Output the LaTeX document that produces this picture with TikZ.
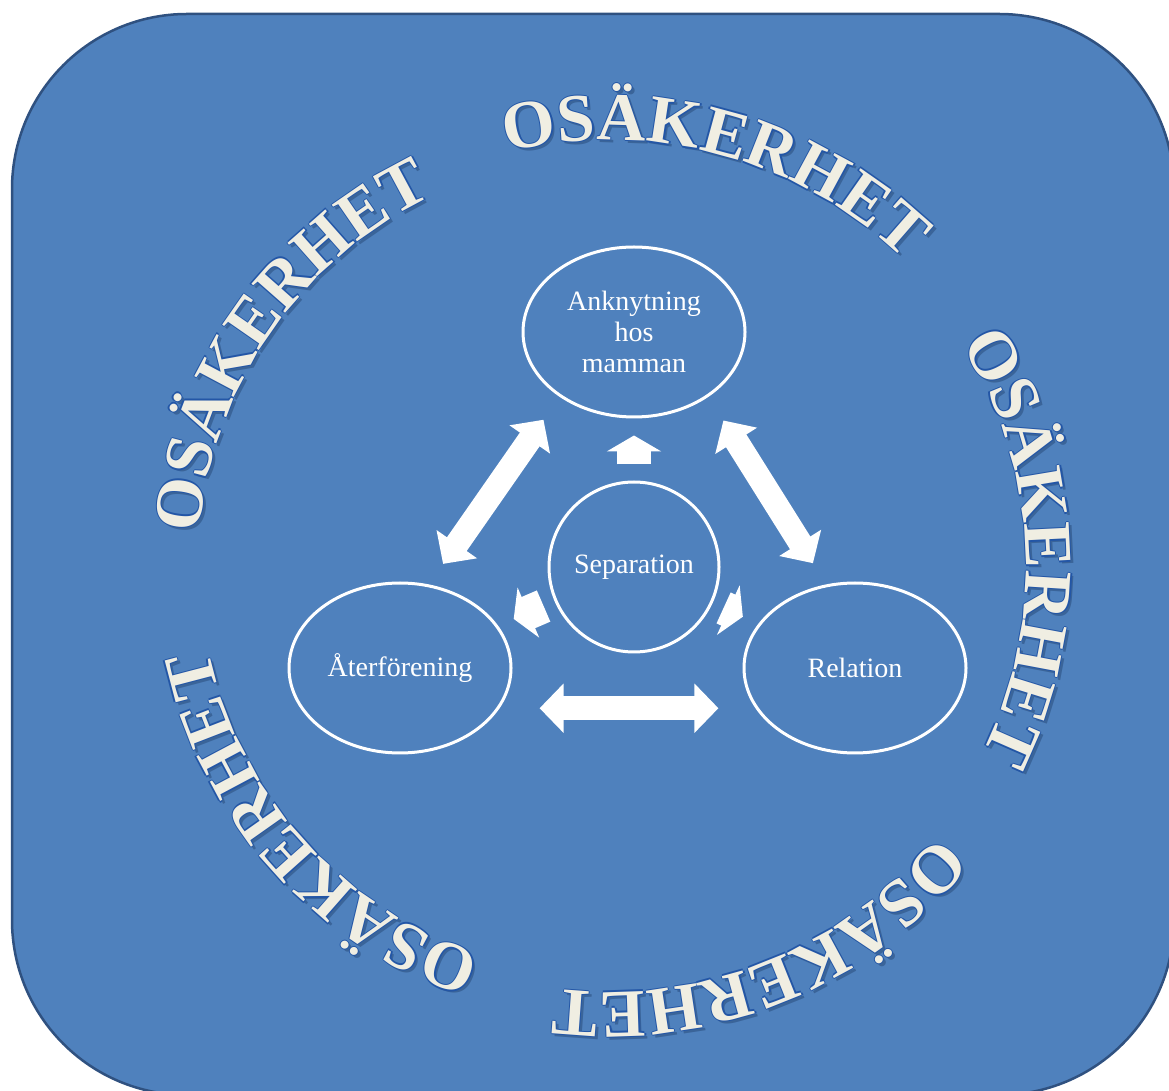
\documentclass[tikz,border=0pt]{standalone}
\usepackage{fontspec}
\setmainfont{Liberation Serif}
\usetikzlibrary{arrows.meta, decorations.text, shapes.geometric}

\definecolor{boxblue}{HTML}{4F81BD}
\definecolor{boxedge}{HTML}{2F5180}
\definecolor{cream}{HTML}{F0EEE2}
\definecolor{rimblue}{HTML}{2356A6}
\definecolor{shadeblue}{HTML}{3A6499}

\newcommand{\osakfont}{\fontsize{68}{68}\selectfont\bfseries}

\begin{document}
\begin{tikzpicture}[x=1pt, y=1pt,
        bubble/.style={ellipse, draw=white, line width=3pt, text=white, inner sep=0pt,
            minimum width=222pt, minimum height=170pt, align=center,
            font=\fontsize{28}{31}\selectfont},
        twoway/.style={white, line width=24pt,
            {Triangle[length=24pt,width=48pt]}-{Triangle[length=24pt,width=48pt]}},
        oneway/.style={white, line width=34pt, -{Triangle[length=16pt,width=54pt]},
            shorten <=12pt, shorten >=17pt}]
    \useasboundingbox (0,0) rectangle (1169,1090);
    \clip (0,0) rectangle (1169,1090);
    \draw [boxedge, line width=2.5pt, fill=boxblue, rounded corners=175pt] (12,-5) rectangle (1174,1076);

    % ring of words
    \coordinate (ring) at (608,523);
    \foreach \mid/\rad in {74.8/427, 2.8/418, -68.2/425, -138.2/408, 145.2/410} {
        \pgfmathsetmacro{\startang}{\mid+40}
        \pgfmathsetmacro{\endang}{\mid-40}
        \foreach \dx/\dy/\col in {3/-3/shadeblue, 1.3/0/rimblue, -1.3/0/rimblue,
                0/1.3/rimblue, 0/-1.3/rimblue, 0/0/cream}
            \path [decorate, decoration={text along path, text align=center,
                    text={|\osakfont\color{\col}|OSÄKERHET}}]
                ([shift={(\dx,\dy)}]ring) ++(\startang:\rad)
                arc [start angle=\startang, end angle=\endang, radius=\rad];
    }

    % circles
    \node [bubble] (ankn) at (634,758) {Anknytning\\hos\\mamman};
    \node [bubble, minimum width=170pt] (sep) at (634,523) {Separation};
    \node [bubble] (aterf) at (400,422) {Återförening};
    \node [bubble] (relat) at (855,422) {Relation};

    % arrows
    \draw [twoway, shorten <=25pt, shorten >=28pt] (aterf.71) -- (ankn.221);
    \draw [twoway, shorten <=25pt, shorten >=28pt] (relat.109) -- (ankn.319);
    \draw [twoway, shorten <=40pt, shorten >=37pt] (aterf.-22) -- (relat.202);
    \draw [oneway, shorten <=16pt] (sep) -- (ankn);
    \draw [oneway] (sep) -- (aterf);
    \draw [oneway] (sep) -- (relat);
\end{tikzpicture}
\end{document}
